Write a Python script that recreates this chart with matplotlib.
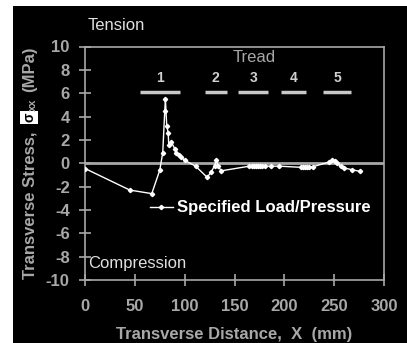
import matplotlib.pyplot as plt
from matplotlib.patches import Rectangle

plt.rcParams['font.family'] = ['Liberation Sans', 'DejaVu Sans']
plt.rcParams['axes.unicode_minus'] = False

# transverse stress along the contact width
x_mm = [0, 45, 67, 75, 78, 80, 80.7, 82, 83.5, 84, 86.7, 90, 91.7, 94, 96.7, 100,
        111, 122.5, 126.7, 130, 131.7, 133.3, 136.7,
        165, 168, 170, 172, 174, 176, 178, 181, 186.7, 195,
        216.7, 218.5, 220.5, 222.5, 224.5, 228.3,
        245, 248.3, 250.5, 253, 256.7, 260, 267.7, 276]
sxx = [-0.45, -2.3, -2.6, -0.6, 0.9, 4.45, 5.5, 3.2, 2.6, 1.6, 1.8, 1.25, 0.9, 0.7, 0.5, 0.25,
       -0.25, -1.2, -0.75, -0.2, 0.25, -0.2, -0.65,
       -0.25, -0.25, -0.25, -0.25, -0.25, -0.25, -0.25, -0.25, -0.25, -0.25,
       -0.35, -0.3, -0.3, -0.3, -0.3, -0.3,
       0.1, 0.3, 0.15, 0.0, -0.25, -0.4, -0.55, -0.7]

# tread rib extents
tread_ids = ['1', '2', '3', '4', '5']
tread_start = [55, 120, 154, 197, 239]
tread_end = [95, 142, 184, 222, 267]
tread_y = 6.1

grey = '#a8a8a8'

fig = plt.figure(figsize=(4.07, 3.43), dpi=100, facecolor='white')
fig.patches.append(Rectangle((13 / 407, 0), 1 - 13 / 407, 337 / 343,
                             transform=fig.transFigure, facecolor='black',
                             edgecolor='none', zorder=-1))

ax = fig.add_axes([85 / 407, 1 - 280 / 343, 299 / 407, 233.5 / 343])
ax.set_facecolor('black')

ax.axhline(0, color=grey, lw=2, zorder=1)
ax.plot(x_mm, sxx, color='white', lw=1, marker='D', ms=2.2, mec='white',
        label='Specified Load/Pressure', zorder=3)

for tid, a, b in zip(tread_ids, tread_start, tread_end):
    ax.plot([a, b], [tread_y, tread_y], color='#c8c8c8', lw=2.5,
            solid_capstyle='butt', zorder=2)
    ax.text((a + b) / 2, tread_y + 0.6, tid, color='#d0d0d0', fontsize=10,
            fontweight='bold', ha='center', va='bottom')
ax.text(170, 9.1, 'Tread', color=grey, fontsize=12, ha='center', va='center')
ax.text(3, -8.6, 'Compression', color='#e0e0e0', fontsize=12, ha='left', va='center')

ax.set_xlim(0, 300)
ax.set_ylim(-10, 10)
ax.set_xticks(range(0, 301, 50))
ax.set_yticks(range(-10, 11, 2))
for s in ax.spines.values():
    s.set_color(grey)
    s.set_linewidth(1.2)
ax.tick_params(axis='both', colors=grey, direction='inout', length=8, width=1.2,
               labelsize=12, pad=7)
ax.tick_params(axis='x', pad=10)
for lab in ax.get_xticklabels() + ax.get_yticklabels():
    lab.set_fontweight('bold')

ax.set_xlabel('Transverse Distance,  X  (mm)', color=grey, fontsize=12,
              fontweight='bold', labelpad=9)

leg = ax.legend(loc='center left', bbox_to_anchor=(0.2, 0.31), frameon=False,
                handlelength=1.6, handletextpad=0.3, borderaxespad=0)
for t in leg.get_texts():
    t.set_color('white')
    t.set_fontweight('bold')
    t.set_fontsize(12)

# y-axis title built from pieces so sigma can sit in its own box
H = 343.0
fig.text(30 / 407, 1 - 279 / H, 'Transverse Stress,', rotation=90, color=grey,
         fontsize=12, fontweight='bold', ha='center', va='bottom')
fig.text(29 / 407, 1 - 117.5 / H, 'σ', rotation=90, color='black', fontsize=10,
         fontweight='bold', ha='center', va='center',
         bbox=dict(facecolor='white', edgecolor='none', pad=1.5))
fig.text(33 / 407, 1 - 105 / H, 'xx', rotation=90, color=grey, fontsize=8,
         fontweight='bold', ha='center', va='center')
fig.text(30 / 407, 1 - 47 / H, '(MPa)', rotation=90, color=grey,
         fontsize=12, fontweight='bold', ha='center', va='top')

fig.text(88 / 407, 1 - 26 / H, 'Tension', color='#e0e0e0', fontsize=12,
         ha='left', va='center')

fig.savefig('out.png', dpi=100, facecolor=fig.get_facecolor())
